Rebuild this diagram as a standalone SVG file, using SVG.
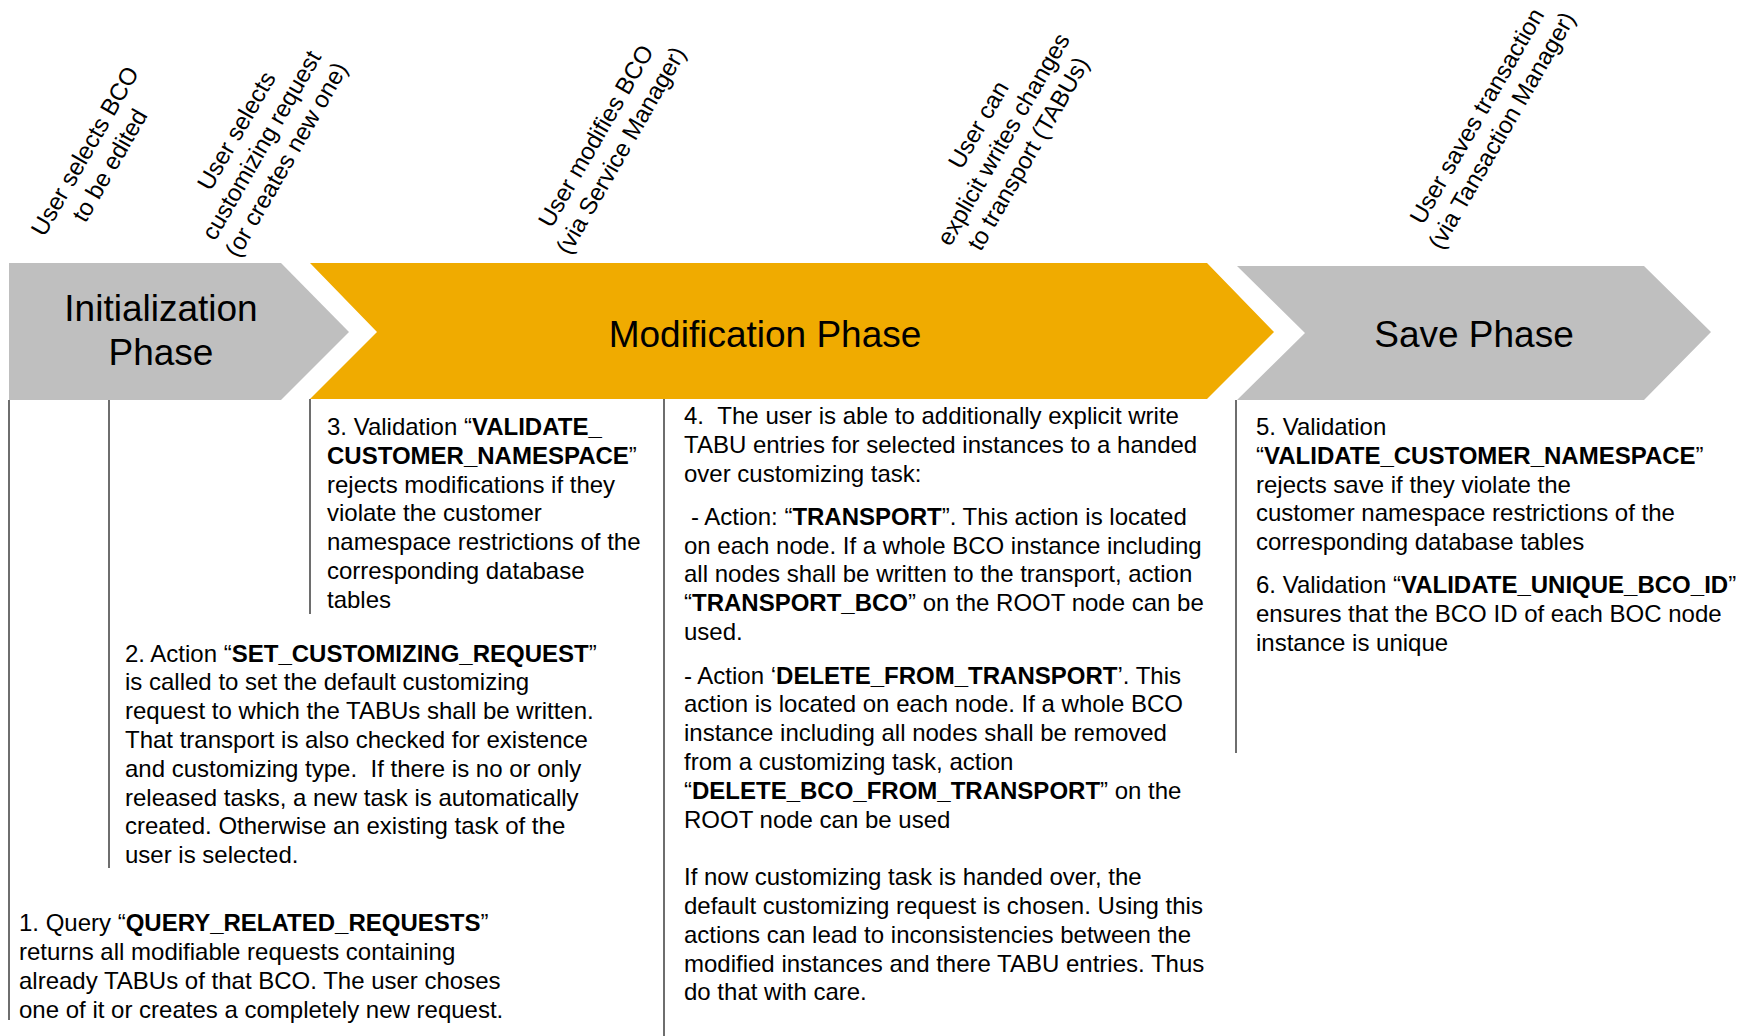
<svg xmlns="http://www.w3.org/2000/svg" width="1756" height="1036" viewBox="0 0 1756 1036">
  <style>
    .phase-grey { fill: #BFBFBF; }
    .phase-gold { fill: #F0AB00; }
    .phase-label { font-family: "Liberation Sans", Arial, sans-serif; font-size: 37px; fill: #000; text-anchor: middle; }
    .event { font-family: "Liberation Sans", Arial, sans-serif; font-size: 24px; fill: #000; text-anchor: middle; }
    .note { font-family: "Liberation Sans", Arial, sans-serif; font-size: 24px; fill: #000; }
    .note .b { font-weight: bold; }
    .tick { stroke: #4a4a4a; stroke-width: 1.6; fill: none; }
  </style>

  <rect width="1756" height="1036" fill="#FFFFFF"/>

  <!-- Phase chevrons -->
  <g id="phase-init">
    <polygon class="phase-grey" points="9,263 281,263 349,332 281,400 9,400"/>
    <text class="phase-label" x="161" y="321">Initialization</text>
    <text class="phase-label" x="161" y="365">Phase</text>
  </g>
  <g id="phase-modification">
    <polygon class="phase-gold" points="310,263 1207,263 1274,332 1207,399 310,399 377,332"/>
    <text class="phase-label" x="765" y="347">Modification Phase</text>
  </g>
  <g id="phase-save">
    <polygon class="phase-grey" points="1237,266 1644,266 1711,332 1644,400 1237,400 1305,333"/>
    <text class="phase-label" x="1474" y="347">Save Phase</text>
  </g>

  <!-- User events, slanted above the phases -->
  <g id="event-select-bco" transform="translate(97,158) rotate(-60)">
    <text class="event" x="0" y="-5.9">User selects BCO</text>
    <text class="event" x="0" y="22.9">to be edited</text>
  </g>
  <g id="event-select-request" transform="translate(261,145) rotate(-60)">
    <text class="event" x="0" y="-20.3">User selects</text>
    <text class="event" x="0" y="8.5">customizing request</text>
    <text class="event" x="0" y="37.3">(or creates new one)</text>
  </g>
  <g id="event-modify" transform="translate(608,143) rotate(-60)">
    <text class="event" x="0" y="-5.9">User modifies BCO</text>
    <text class="event" x="0" y="22.9">(via Service Manager)</text>
  </g>
  <g id="event-write-tabu" transform="translate(1003,139) rotate(-60)">
    <text class="event" x="0" y="-20.3">User can</text>
    <text class="event" x="0" y="8.5">explicit writes changes</text>
    <text class="event" x="0" y="37.3">to transport (TABUs)</text>
  </g>
  <g id="event-save" transform="translate(1489,123) rotate(-60)">
    <text class="event" x="0" y="-5.9">User saves transaction</text>
    <text class="event" x="0" y="22.9">(via Tansaction Manager)</text>
  </g>

  <!-- Timeline markers dropping from the phases to their notes -->
  <g id="connectors">
    <line class="tick" x1="9" y1="400" x2="9" y2="1020"/>
    <line class="tick" x1="109" y1="400" x2="109" y2="868"/>
    <line class="tick" x1="310" y1="399" x2="310" y2="614"/>
    <line class="tick" x1="664" y1="399" x2="664" y2="1036"/>
    <line class="tick" x1="1236" y1="400" x2="1236" y2="753"/>
  </g>

  <!-- Notes -->
  <g id="note-1" class="note">
    <text x="19" y="931.4">1. Query “<tspan class="b">QUERY_RELATED_REQUESTS</tspan>”</text>
    <text x="19" y="960.2">returns all modifiable requests containing</text>
    <text x="19" y="989">already TABUs of that BCO. The user choses</text>
    <text x="19" y="1017.8">one of it or creates a completely new request.</text>
  </g>

  <g id="note-2" class="note">
    <text x="125" y="661.5">2. Action “<tspan class="b">SET_CUSTOMIZING_REQUEST</tspan>”</text>
    <text x="125" y="690.3">is called to set the default customizing</text>
    <text x="125" y="719.1">request to which the TABUs shall be written.</text>
    <text x="125" y="747.9">That transport is also checked for existence</text>
    <text x="125" y="776.7">and customizing type. &#160;If there is no or only</text>
    <text x="125" y="805.5">released tasks, a new task is automatically</text>
    <text x="125" y="834.3">created. Otherwise an existing task of the</text>
    <text x="125" y="863.1">user is selected.</text>
  </g>

  <g id="note-3" class="note">
    <text x="327" y="435">3. Validation “<tspan class="b">VALIDATE_</tspan></text>
    <text x="327" y="463.8"><tspan class="b">CUSTOMER_NAMESPACE</tspan>”</text>
    <text x="327" y="492.6">rejects modifications if they</text>
    <text x="327" y="521.4">violate the customer</text>
    <text x="327" y="550.2">namespace restrictions of the</text>
    <text x="327" y="579">corresponding database</text>
    <text x="327" y="607.8">tables</text>
  </g>

  <g id="note-4" class="note">
    <text x="684" y="424">4. &#160;The user is able to additionally explicit write</text>
    <text x="684" y="452.8">TABU entries for selected instances to a handed</text>
    <text x="684" y="481.6">over customizing task:</text>
    <text x="691" y="524.8">- Action: “<tspan class="b">TRANSPORT</tspan>”. This action is located</text>
    <text x="684" y="553.6">on each node. If a whole BCO instance including</text>
    <text x="684" y="582.4">all nodes shall be written to the transport, action</text>
    <text x="684" y="611.2">“<tspan class="b">TRANSPORT_BCO</tspan>” on the ROOT node can be</text>
    <text x="684" y="640">used.</text>
    <text x="684" y="683.6">- Action ‘<tspan class="b">DELETE_FROM_TRANSPORT</tspan>’. This</text>
    <text x="684" y="712.4">action is located on each node. If a whole BCO</text>
    <text x="684" y="741.2">instance including all nodes shall be removed</text>
    <text x="684" y="770">from a customizing task, action</text>
    <text x="684" y="798.8">“<tspan class="b">DELETE_BCO_FROM_TRANSPORT</tspan>” on the</text>
    <text x="684" y="827.6">ROOT node can be used</text>
    <text x="684" y="885.2">If now customizing task is handed over, the</text>
    <text x="684" y="914">default customizing request is chosen. Using this</text>
    <text x="684" y="942.8">actions can lead to inconsistencies between the</text>
    <text x="684" y="971.6">modified instances and there TABU entries. Thus</text>
    <text x="684" y="1000.4">do that with care.</text>
  </g>

  <g id="note-5" class="note">
    <text x="1256" y="435">5. Validation</text>
    <text x="1256" y="463.8">“<tspan class="b">VALIDATE_CUSTOMER_NAMESPACE</tspan>”</text>
    <text x="1256" y="492.6">rejects save if they violate the</text>
    <text x="1256" y="521.4">customer namespace restrictions of the</text>
    <text x="1256" y="550.2">corresponding database tables</text>
    <text x="1256" y="593.4">6. Validation “<tspan class="b">VALIDATE_UNIQUE_BCO_ID</tspan>”</text>
    <text x="1256" y="622.2">ensures that the BCO ID of each BOC node</text>
    <text x="1256" y="651">instance is unique</text>
  </g>
</svg>
